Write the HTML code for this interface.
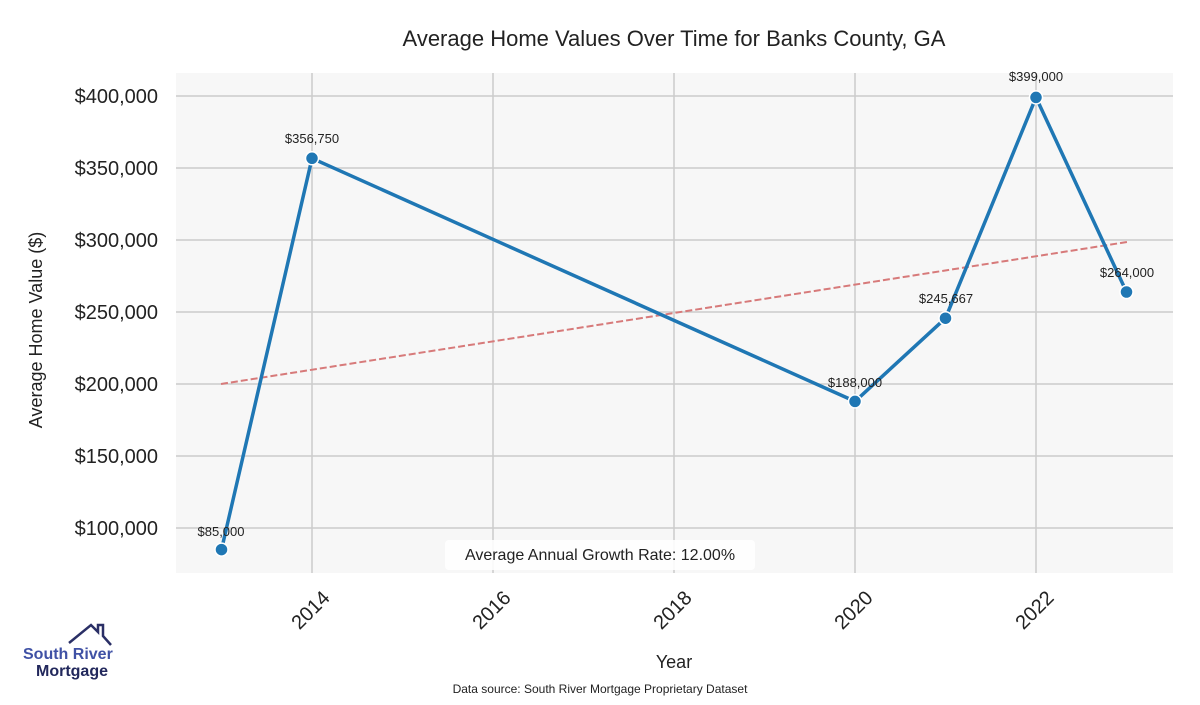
<!DOCTYPE html>
<html><head><meta charset="utf-8"><style>body{margin:0;background:#fff}</style></head><body>
<svg width="1200" height="700" xmlns="http://www.w3.org/2000/svg" font-family="Liberation Sans, sans-serif">
<rect x="176" y="73" width="997" height="500" fill="#f7f7f7"/>
<g stroke="#cccccc" stroke-width="1.5">
<line x1="312" y1="73" x2="312" y2="573"/><line x1="493" y1="73" x2="493" y2="573"/><line x1="674" y1="73" x2="674" y2="573"/><line x1="855" y1="73" x2="855" y2="573"/><line x1="1036" y1="73" x2="1036" y2="573"/>
<line x1="176" y1="96" x2="1173" y2="96"/><line x1="176" y1="168" x2="1173" y2="168"/><line x1="176" y1="240" x2="1173" y2="240"/><line x1="176" y1="312" x2="1173" y2="312"/><line x1="176" y1="384" x2="1173" y2="384"/><line x1="176" y1="456" x2="1173" y2="456"/><line x1="176" y1="528" x2="1173" y2="528"/>
</g>
<g font-size="20" fill="#222" text-anchor="end">
<text x="158" y="103">$400,000</text><text x="158" y="175">$350,000</text><text x="158" y="247">$300,000</text><text x="158" y="319">$250,000</text><text x="158" y="391">$200,000</text><text x="158" y="463">$150,000</text><text x="158" y="535">$100,000</text>
</g>
<g font-size="20" fill="#222" text-anchor="end">
<text transform="translate(331,599) rotate(-45)">2014</text><text transform="translate(512,599) rotate(-45)">2016</text><text transform="translate(693,599) rotate(-45)">2018</text><text transform="translate(874,599) rotate(-45)">2020</text><text transform="translate(1055,599) rotate(-45)">2022</text>
</g>
<text x="674" y="46" font-size="22" fill="#222" text-anchor="middle">Average Home Values Over Time for Banks County, GA</text>
<text x="674" y="668" font-size="18" fill="#222" text-anchor="middle">Year</text>
<text transform="translate(42,330) rotate(-90)" font-size="18" fill="#222" text-anchor="middle">Average Home Value ($)</text>
<text x="600" y="693" font-size="12" fill="#222" text-anchor="middle">Data source: South River Mortgage Proprietary Dataset</text>
<line x1="221" y1="384" x2="1127" y2="242" stroke="#d77a7a" stroke-width="2" stroke-dasharray="7,3"/>
<polyline points="221.5,549.6 312,158.3 855,401.4 945.5,318.2 1036,97.4 1126.5,292" fill="none" stroke="#1f77b4" stroke-width="3.5"/>
<g fill="#1f77b4" stroke="#fff" stroke-width="1.5">
<circle cx="221.5" cy="549.6" r="6.5"/><circle cx="312" cy="158.3" r="6.5"/><circle cx="855" cy="401.4" r="6.5"/><circle cx="945.5" cy="318.2" r="6.5"/><circle cx="1036" cy="97.4" r="6.5"/><circle cx="1126.5" cy="292" r="6.5"/>
</g>
<g font-size="13" fill="#222" text-anchor="middle">
<text x="221" y="536">$85,000</text><text x="312" y="143">$356,750</text><text x="855" y="387">$188,000</text><text x="946" y="303">$245,667</text><text x="1036" y="81">$399,000</text><text x="1127" y="277">$264,000</text>
</g>
<rect x="445" y="540" width="310" height="30" rx="4" fill="#fff" opacity="0.85"/>
<text x="600" y="560" font-size="16" fill="#222" text-anchor="middle">Average Annual Growth Rate: 12.00%</text>
<polyline points="69,643 91,625 98,632 98,625 103,625 103,636 111,645" fill="none" stroke="#2a2f66" stroke-width="2.5"/>
<text x="23" y="659" font-size="16" fill="#3f51a5" font-weight="bold">South River</text>
<text x="36" y="676" font-size="16" fill="#22285c" font-weight="bold">Mortgage</text>
</svg>
</body></html>
